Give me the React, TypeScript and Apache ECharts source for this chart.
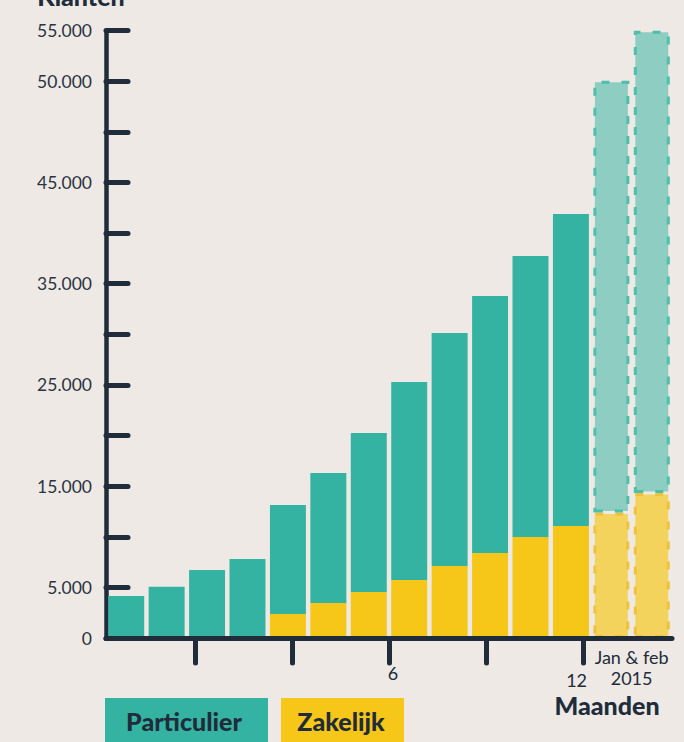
import React, { useEffect, useRef } from "react";
import * as echarts from "echarts";

// ---- data ----
const categories = [
  "jan", "feb", "mrt", "apr", "mei", "jun", "jul", "aug", "sep", "okt", "nov", "dec",
  "jan 2015", "feb 2015",
];
const particulier = [4150, 5070, 6720, 7800, 10770, 12840, 15710, 19570, 23020, 25390, 27770, 30830, 42650, 45670];
const zakelijk = [0, 0, 0, 0, 2370, 3460, 4550, 5730, 7120, 8400, 9980, 11070, 12400, 14330];
const projected = [false, false, false, false, false, false, false, false, false, false, false, false, true, true];

// y tick labels as printed in the original, keyed by tick value
const yTickValues = [0, 5000, 15000, 25000, 35000, 45000, 55000, 60000];
const yTickLabels = ["0", "5.000", "15.000", "25.000", "35.000", "45.000", "50.000", "55.000"];

// month ticks along the bottom (in bar units)
const monthTicks = [2.2, 4.6, 7.0, 9.4, 11.8];
const monthLabelPos = [7.1, 11.64, 13];
const monthLabelText = ["6", "12", "Jan & feb\n2015"];

const DARK = "#212c3b";
const TEAL = "#34b3a2";
const YELLOW = "#f6c619";
const TEAL_LIGHT = "#8ecdc2";
const YELLOW_LIGHT = "#f3d35c";
const BG = "#eee9e5";

export default function App() {
  const ref = useRef<HTMLDivElement>(null);

  useEffect(() => {
    if (!ref.current) return;
    const chart = echarts.init(ref.current, undefined, { renderer: "svg" });

    const mk = (vals: number[], solid: string, light: string, border: string) =>
      vals.map((v, i) =>
        projected[i]
          ? {
              value: v,
              itemStyle: {
                color: light,
                borderColor: border,
                borderWidth: 3,
                borderType: [8, 12],
              },
            }
          : { value: v, itemStyle: { color: solid } }
      );

    const bold = (text: string, x: number, y: number) => ({
      type: "text",
      x,
      y,
      style: {
        text,
        fontFamily: "Lato",
        fontWeight: 900,
        fontSize: 25,
        fill: DARK,
        align: "center",
        verticalAlign: "middle",
      },
    });

    chart.setOption({
      animation: false,
      backgroundColor: BG,
      grid: { left: 106, right: 12, top: 30.7, bottom: 104, containLabel: false },
      xAxis: [
        {
          type: "category",
          data: categories,
          z: 3,
          axisLine: { show: true, lineStyle: { color: DARK, width: 5, cap: "round" } },
          axisTick: { show: false },
          axisLabel: { show: false },
          splitLine: { show: false },
        },
        {
          type: "value",
          min: 0,
          max: 14,
          position: "bottom",
          offset: 3,
          axisLine: { show: false },
          splitLine: { show: false },
          axisTick: {
            show: true,
            customValues: monthTicks,
            length: 22,
            lineStyle: { color: DARK, width: 5, cap: "round" },
          },
          axisLabel: {
            show: true,
            customValues: monthLabelPos,
            margin: 5,
            formatter: (v: number) => {
              const i = monthLabelPos.findIndex((p) => Math.abs(p - v) < 1e-6);
              if (i === 0) return "{a|" + monthLabelText[0] + "}";
              if (i === 1) return "{b|" + monthLabelText[1] + "}";
              if (i === 2) return monthLabelText[2].split("\n").map((s) => "{c|" + s + "}").join("\n");
              return "";
            },
            rich: {
              a: { fontFamily: "Lato", fontSize: 18, color: DARK, padding: [18, 0, 0, 0] },
              b: { fontFamily: "Lato", fontSize: 18, color: DARK, padding: [25, 0, 0, 0] },
              c: { fontFamily: "Lato", fontSize: 18, color: DARK, lineHeight: 21 },
            },
          },
        },
      ],
      yAxis: {
        type: "value",
        min: 0,
        max: 60000,
        interval: 5000,
        axisLine: { show: true, lineStyle: { color: DARK, width: 4.5, cap: "round" } },
        axisTick: {
          show: true,
          inside: true,
          length: 22,
          lineStyle: { color: DARK, width: 5, cap: "round" },
        },
        splitLine: { show: false },
        axisLabel: {
          margin: 14,
          fontFamily: "Lato",
          fontSize: 17.5,
          color: "#2a3442",
          formatter: (v: number) => {
            const i = yTickValues.indexOf(v);
            return i >= 0 ? yTickLabels[i] : "";
          },
        },
      },
      series: [
        {
          name: "Zakelijk",
          type: "bar",
          stack: "klanten",
          xAxisIndex: 0,
          barCategoryGap: "11%",
          data: mk(zakelijk, YELLOW, YELLOW_LIGHT, "#eec33a"),
        },
        {
          name: "Particulier",
          type: "bar",
          stack: "klanten",
          xAxisIndex: 0,
          barCategoryGap: "11%",
          data: mk(particulier, TEAL, TEAL_LIGHT, "#4dbfab"),
        },
      ],
      graphic: [
        bold("Klanten", 81, -4),
        bold("Maanden", 607, 705),
        { type: "rect", shape: { x: 105, y: 698, width: 163, height: 60 }, style: { fill: TEAL } },
        bold("Particulier", 184, 721),
        { type: "rect", shape: { x: 281, y: 698, width: 123, height: 60 }, style: { fill: YELLOW } },
        bold("Zakelijk", 341, 721),
      ],
    });

    return () => chart.dispose();
  }, []);

  return (
    <div
      ref={ref}
      style={{ position: "fixed", left: 0, top: 0, width: 684, height: 742, background: BG }}
    />
  );
}
